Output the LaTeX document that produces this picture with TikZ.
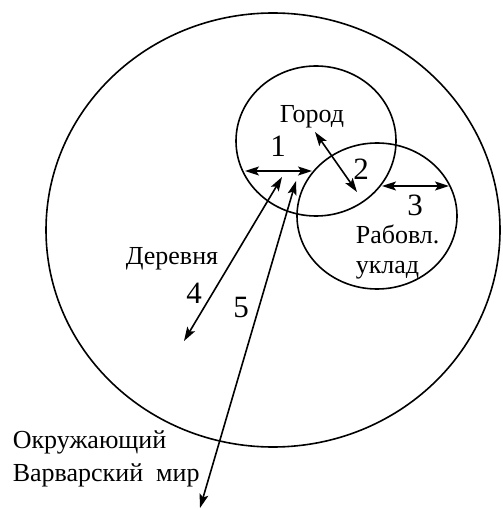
\documentclass[tikz,border=0pt]{standalone}
\usepackage{fontspec}
\setmainfont{Liberation Serif}
\usetikzlibrary{arrows.meta,shapes.geometric}

\begin{document}
\begin{tikzpicture}[x=1pt,y=-1pt,line width=1.6pt,>={Stealth[length=14pt,width=9pt,inset=3pt]},
    zone/.style={draw,ellipse,inner sep=0pt},
    lbl/.style={inner sep=0pt,font=\fontsize{26}{30}\selectfont},
    num/.style={inner sep=0pt,font=\fontsize{31}{31}\selectfont}]
  \useasboundingbox (0,0) rectangle (502,510);
  \node[zone,minimum width=454pt,minimum height=434pt] (world) at (273,230) {};
  \node[zone,minimum width=160pt,minimum height=150pt] (city) at (316,141) {};
  \node[zone,minimum width=160pt,minimum height=146pt] (slave) at (377,216) {};
  % labels
  \node[lbl,anchor=base] (citytxt) at (312,123) {Город};
  \node[lbl,anchor=base west] (slavetxt) at (355,243) {Рабовл.};
  \node[lbl,anchor=base west] (slavetxtb) at (355,273) {уклад};
  \node[lbl,anchor=base] (village) at (172,264) {Деревня};
  \node[lbl,anchor=base west] (outer) at (12,448) {Окружающий};
  \node[lbl,anchor=base west] (outerb) at (12,481) {Варварский\ \ мир};
  % arrow ends
  \coordinate (a1) at (245,171); \coordinate (b1) at (312,171);
  \coordinate (a2) at (315,132); \coordinate (b2) at (357,192);
  \coordinate (a3) at (382,186); \coordinate (b3) at (449,186);
  \coordinate (a4) at (282,177); \coordinate (b4) at (184,341);
  \coordinate (a5) at (296,181); \coordinate (b5) at (200,508);
  \foreach \i in {1,...,5} \draw[<->] (a\i) -- (b\i);
  % numbers
  \node[num,anchor=base] (n1) at (278,157) {1};
  \node[num,anchor=base] (n2) at (361,180) {2};
  \node[num,anchor=base] (n3) at (415,215) {3};
  \node[num,anchor=base] (n4) at (194,303) {4};
  \node[num,anchor=base] (n5) at (241,317) {5};
\end{tikzpicture}
\end{document}
